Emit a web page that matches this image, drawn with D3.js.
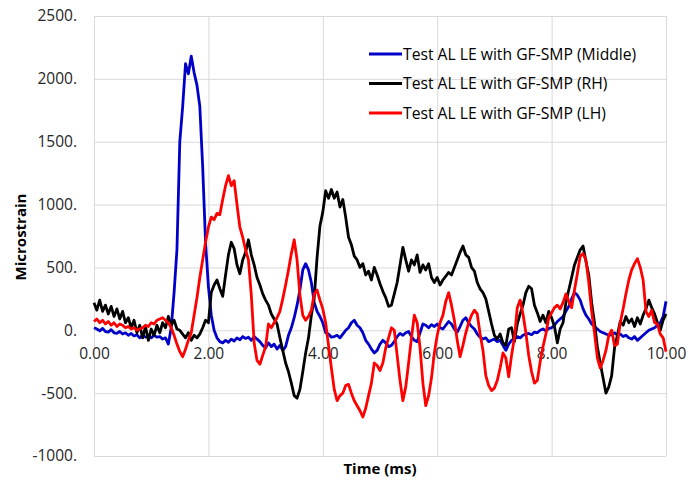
<!DOCTYPE html>
<html>
<head>
<meta charset="utf-8">
<script src="https://cdn.jsdelivr.net/npm/d3@7"></script>
<style>
  body { margin: 0; background: #fff; }
  svg { display: block; font-family: "Open Sans", sans-serif; }
</style>
</head>
<body>
<div class="chart"></div>
<script>
// 系列名稱 (legend order)
const seriesNames = ['Test AL LE with GF-SMP (Middle)', 'Test AL LE with GF-SMP (RH)', 'Test AL LE with GF-SMP (LH)'];
const seriesColors = ['#0000c8', '#000000', '#ff0000'];

// sampled every 0.05 ms, from 0.00 to 10.00
const timeStep = 0.05;

const middle = [
  20, 10, -5, 15, -10, -15, 5, -20, -25, -10,
  -30, -20, -40, -25, -45, -35, -60, -40, -55, -45,
  -60, -40, -55, -50, -70, -60, -110, 20, 300, 640,
  1500, 1780, 2120, 2040, 2180, 2050, 1950, 1780, 1300, 700,
  350, 120, 0, -60, -90, -100, -80, -95, -70, -85,
  -60, -75, -50, -65, -55, -80, -50, -70, -90, -120,
  -140, -100, -130, -110, -150, -120, -160, -130, -40, 20,
  100, 200, 320, 480, 530, 480, 380, 220, 150, 110,
  60, -20, -30, -55, -50, -40, -60, -30, 0, 20,
  60, 80, 40, 20, -20, -80, -110, -150, -180, -160,
  -110, -80, -100, -130, -120, -90, -50, -25, -40, -20,
  -10, -50, -80, -90, -20, 50, 40, 20, 45, 30,
  50, 20, 10, 40, 70, 50, 10, -15, 30, 80,
  100, 60, 30, 10, -30, -55, -70, -60, -90, -80,
  -70, -90, -80, -120, -160, -110, -80, -70, -50, -60,
  -40, -30, -25, -35, -15, -20, 0, 10, -5, 15,
  20, 40, 70, 90, 110, 150, 190, 250, 300, 280,
  240, 170, 120, 90, 50, 30, 10, -10, -20, -30,
  -40, -35, -20, -40, -30, -50, -40, -60, -70, -50,
  -80, -60, -40, -20, 0, 10, 20, 40, 60, 110,
  230
];

const rh = [
  220, 160, 240, 150, 200, 130, 190, 110, 170, 90,
  150, 60, 100, 20, 80, -20, 40, -60, 30, -80,
  10, -40, 40, -20, 60, 20, 110, 40, 80, 10,
  0, -30, -60, -20, -80, -40, -60, -30, 20, 80,
  60, 300, 360, 400, 330, 270, 440, 600, 700, 650,
  520, 450, 560, 620, 720, 600, 520, 420, 360, 290,
  240, 200, 130, 90, 50, -60, -160, -260, -330, -420,
  -520, -540, -470, -330, -180, -60, 120, 260, 580, 830,
  940, 1110, 1050, 1120, 1050, 1100, 980, 1040, 900, 740,
  680, 590, 560, 500, 530, 440, 470, 400, 500, 440,
  370, 310, 260, 190, 200, 290, 380, 520, 660, 560,
  470, 560, 520, 600, 460, 520, 480, 530, 420, 380,
  420, 360, 400, 430, 460, 440, 500, 560, 620, 670,
  600, 580, 500, 470, 380, 330, 300, 250, 150, 50,
  -40, -70, -30, -100, -120, 10, 20, -90, 50, 130,
  200, 300, 350, 330, 200, 140, 70, 120, 60, 150,
  100, 30, -100, 10, 60, 220, 320, 420, 520, 580,
  640, 670, 550, 440, 220, 60, -130, -260, -380, -500,
  -450, -360, -140, -40, 70, 40, 110, 60, 90, 30,
  100, 50, 120, 170, 240, 180, 130, 60, 0, 80,
  130
];

const lh = [
  70, 90, 60, 80, 50, 70, 40, 60, 30, 50,
  40, 20, 30, 10, 20, 0, 10, 20, 40, 30,
  60, 50, 80, 90, 100, 80, 60, 20, -40, -110,
  -170, -210, -150, -80, -20, 120, 260, 420, 560, 700,
  820, 900, 880, 930, 920, 1040, 1150, 1230, 1150, 1190,
  1000, 820, 740, 640, 560, 280, -100, -240, -270, -200,
  -130, 50, 20, 60, 100, 150, 250, 360, 480, 610,
  720, 560, 280, 120, 80, 110, 160, 290, 320, 240,
  170, 60, -120, -300, -470, -560, -520, -500, -440, -430,
  -500, -560, -600, -640, -690, -620, -520, -420, -260, -280,
  -320, -260, -140, -60, 20, 0, -200, -400, -560, -450,
  -260, -60, 120, 60, -140, -420, -600, -520, -380, -180,
  -40, 60, 120, 230, 300, 200, 80, -80, -210, -120,
  -20, 60, 120, 160, 130, -30, -160, -360, -440, -480,
  -460, -400, -300, -180, -220, -370, -200, -60, 180, 240,
  130, -20, -200, -330, -420, -400, -250, -130, -30, 100,
  140, 180, 200, 170, 220, 290, 230, 180, 320, 450,
  590, 610, 560, 380, 150, -20, -220, -300, -240, -160,
  -40, 0, -120, -110, 60, 170, 290, 400, 480, 530,
  570, 500, 400, 150, 110, 160, 60, 50, -30, -60,
  -170
];

const xTicks = [0, 2, 4, 6, 8, 10];
const yTicks = [-1000, -500, 0, 500, 1000, 1500, 2000, 2500];

const svg_width = 690;
const svg_height = 482;
const margin = { top: 16, right: 24, bottom: 26, left: 94 };
const chart_width = svg_width - margin.left - margin.right;
const chart_height = svg_height - margin.top - margin.bottom;

const svg = d3.select('.chart').append('svg')
  .attr('width', svg_width).attr('height', svg_height);
const g = svg.append('g').attr('transform', `translate(${margin.left},${margin.top})`);

const xScale = d3.scaleLinear().domain([0, 10]).range([0, chart_width]);
const yScale = d3.scaleLinear().domain([-1000, 2500]).range([chart_height, 0]);

// grid lines (both directions, light gray)
const xGrid = d3.axisBottom(xScale).tickValues(xTicks).tickSize(-chart_height).tickFormat('');
g.append('g').attr('class', 'grid').attr('transform', `translate(0,${chart_height})`).call(xGrid);
const yGrid = d3.axisLeft(yScale).tickValues(yTicks).tickSize(-chart_width).tickFormat('');
g.append('g').attr('class', 'grid').call(yGrid);
g.selectAll('.grid line').attr('stroke', '#d9d9d9').attr('stroke-width', 1);
g.selectAll('.grid .domain').remove();

// y tick labels
const yAxis = d3.axisLeft(yScale).tickValues(yTicks).tickSize(0).tickPadding(17)
  .tickFormat(d => d + '.');
const yAxisDraw = g.append('g').call(yAxis);
yAxisDraw.select('.domain').remove();
yAxisDraw.selectAll('text').attr('font-size', 15.5).attr('fill', '#262626')
  .attr('font-family', '"Open Sans", sans-serif');

// x tick labels sit on the zero line
const xAxis = d3.axisBottom(xScale).tickValues(xTicks).tickSize(0).tickPadding(18)
  .tickFormat(d3.format('.2f'));
const xAxisDraw = g.append('g').attr('transform', `translate(0,${yScale(0)})`).call(xAxis);
xAxisDraw.select('.domain').remove();
xAxisDraw.selectAll('text').attr('font-size', 15.5).attr('fill', '#262626')
  .attr('font-family', '"Open Sans", sans-serif');

// lines
const allSeries = [middle, rh, lh];
const line = d3.line()
  .x((d, i) => xScale(i * timeStep))
  .y(d => yScale(d));
allSeries.forEach((s, i) => {
  g.append('path').datum(s)
    .attr('fill', 'none')
    .attr('stroke', seriesColors[i])
    .attr('stroke-width', 2.8)
    .attr('stroke-linejoin', 'round')
    .attr('d', line);
});

// legend
const legend = svg.append('g').attr('transform', 'translate(369,54)');
seriesNames.forEach((name, i) => {
  const row = legend.append('g').attr('transform', `translate(0,${i * 29.5})`);
  row.append('line').attr('x1', 0).attr('x2', 33).attr('y1', 0).attr('y2', 0)
    .attr('stroke', seriesColors[i]).attr('stroke-width', 3);
  row.append('text').attr('x', 34).attr('y', 0).attr('dy', '0.35em')
    .attr('font-size', 15.7).attr('fill', '#000').text(name);
});

// axis titles
svg.append('text')
  .attr('transform', `translate(26,${margin.top + chart_height / 2 + 1}) rotate(-90)`)
  .attr('text-anchor', 'middle').attr('font-weight', 'bold').attr('font-size', 15)
  .text('Microstrain');
svg.append('text')
  .attr('x', margin.left + chart_width / 2).attr('y', 474)
  .attr('text-anchor', 'middle').attr('font-weight', 'bold').attr('font-size', 15)
  .text('Time (ms)');
</script>
</body>
</html>
